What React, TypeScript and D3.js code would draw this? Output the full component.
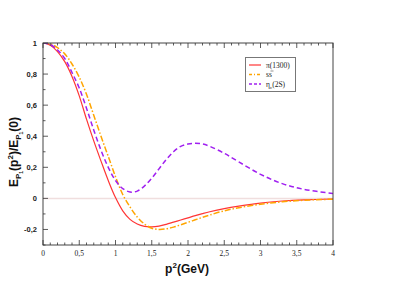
import React from 'react';
import * as d3 from 'd3';

// p^2 sample points (GeV)
const p2 = [0, 0.1, 0.2, 0.3, 0.4, 0.5, 0.6, 0.7, 0.8, 0.9, 1.0, 1.1, 1.2, 1.3, 1.4, 1.5, 1.6, 1.7, 1.8, 1.9, 2.0, 2.1, 2.2, 2.3, 2.5, 2.7, 3.0, 3.3, 3.6, 4.0];

const pi1300 = [1, 0.985, 0.945, 0.88, 0.785, 0.66, 0.51, 0.37, 0.24, 0.115, 0.005, -0.08, -0.135, -0.165, -0.18, -0.183, -0.178, -0.167, -0.153, -0.139, -0.125, -0.111, -0.098, -0.086, -0.066, -0.05, -0.03, -0.017, -0.009, -0.004];
const ssbar = [1, 0.995, 0.97, 0.93, 0.865, 0.78, 0.67, 0.535, 0.4, 0.27, 0.14, 0.025, -0.055, -0.12, -0.165, -0.192, -0.2, -0.196, -0.185, -0.17, -0.154, -0.138, -0.122, -0.107, -0.08, -0.06, -0.038, -0.022, -0.012, -0.005];
const etac2S = [1, 0.99, 0.955, 0.9, 0.81, 0.71, 0.58, 0.44, 0.31, 0.2, 0.115, 0.063, 0.041, 0.047, 0.08, 0.13, 0.19, 0.25, 0.3, 0.335, 0.35, 0.355, 0.35, 0.335, 0.29, 0.235, 0.155, 0.095, 0.058, 0.032];

const xTicks = [0, 0.5, 1, 1.5, 2, 2.5, 3, 3.5, 4];
const xTickLabels = ['0', '0,5', '1', '1,5', '2', '2,5', '3', '3,5', '4'];
const yTicks = [-0.2, 0, 0.2, 0.4, 0.6, 0.8, 1];
const yTickLabels = ['-0,2', '0', '0,2', '0,4', '0,6', '0,8', '1'];

const series = [
  { name: 'pi', values: pi1300, color: '#ff3535', dash: '', width: 1.2 },
  { name: 'ss', values: ssbar, color: '#ffa500', dash: '6,2,1.5,2', width: 1.5 },
  { name: 'etac', values: etac2S, color: '#a020f0', dash: '5,3', width: 1.5 },
];

export default function App() {
  const W = 398, H = 281;
  const left = 43, right = 333, top = 43, bottom = 245;
  const x = d3.scaleLinear().domain([0, 4]).range([left, right]);
  const y = d3.scaleLinear().domain([-0.3, 1]).range([bottom, top]);
  const line = d3.line<number>()
    .x((_, i) => x(p2[i]))
    .y(d => y(d))
    .curve(d3.curveCatmullRom.alpha(0.5));

  const xMinor = d3.range(0, 40.5, 1).map(v => v / 10);
  const yMinor = d3.range(-3, 10.5, 1).map(v => v / 10);
  const sans = 'Liberation Sans, Arial, sans-serif';
  const serif = 'Liberation Serif, Times New Roman, serif';

  return (
    <svg width={W} height={H} style={{ position: 'absolute', left: 0, top: 0, background: '#fff' }}>
      <defs>
        <clipPath id="plot"><rect x={left} y={top} width={right - left} height={bottom - top} /></clipPath>
      </defs>
      <line x1={left} x2={right} y1={y(0)} y2={y(0)} stroke="#f0dede" strokeWidth={1.5} />
      <g clipPath="url(#plot)">
        {series.map(s => (
          <path key={s.name} d={line(s.values) || ''} fill="none" stroke={s.color}
            strokeWidth={s.width} strokeDasharray={s.dash} />
        ))}
      </g>
      <rect x={left} y={top} width={right - left} height={bottom - top} fill="none" stroke="#444" strokeWidth={1} />
      {xMinor.map(v => {
        const major = Math.abs(v * 2 - Math.round(v * 2)) < 1e-6;
        const l = major ? 5 : 2.5;
        return (
          <g key={'x' + v} stroke="#333" strokeWidth={0.8}>
            <line x1={x(v)} x2={x(v)} y1={bottom} y2={bottom - l} />
            <line x1={x(v)} x2={x(v)} y1={top} y2={top + l} />
          </g>
        );
      })}
      {yMinor.map(v => {
        const major = Math.abs(v * 5 - Math.round(v * 5)) < 1e-6;
        const l = major ? 5 : 2.5;
        return (
          <line key={'y' + v} stroke="#333" strokeWidth={0.8} x1={left} x2={left + l} y1={y(v)} y2={y(v)} />
        );
      })}
      {xTicks.map((v, i) => (
        <text key={'xl' + v} x={x(v)} y={256} textAnchor="middle" fontFamily={serif} fontSize={7.5} fill="#222">{xTickLabels[i]}</text>
      ))}
      {yTicks.map((v, i) => (
        <text key={'yl' + v} x={37} y={y(v) + 3} textAnchor="end" fontFamily={sans} fontWeight="bold" fontSize={7.5} fill="#222">{yTickLabels[i]}</text>
      ))}
      <text x={187} y={273} textAnchor="middle" fontFamily={sans} fontWeight="bold" fontSize={12} fill="#111">
        p<tspan dy={-5} fontSize={8}>2</tspan><tspan dy={5}>(GeV)</tspan>
      </text>
      <text transform="translate(18,152) rotate(-90)" textAnchor="middle" fontFamily={sans} fontWeight="bold" fontSize={12} fill="#111">
        E<tspan dy={3} fontSize={8}>P</tspan><tspan dy={2} fontSize={5}>1</tspan><tspan dy={-5}>(p</tspan><tspan dy={-5} fontSize={8}>2</tspan><tspan dy={5}>)/E</tspan><tspan dy={3} fontSize={8}>P</tspan><tspan dy={2} fontSize={5}>1</tspan><tspan dy={-5}>(0)</tspan>
      </text>
      <g>
        <rect x={245.5} y={57.5} width={50} height={34} fill="#fff" stroke="#777" strokeWidth={1} />
        {series.map((s, i) => (
          <line key={'lg' + s.name} x1={249} x2={261} y1={65 + i * 9.5} y2={65 + i * 9.5}
            stroke={s.color} strokeWidth={s.width} strokeDasharray={s.name === 'ss' ? '3,2,1,2' : s.dash ? '3,2' : ''} />
        ))}
        <text x={266} y={67.5} fontFamily={serif} fontSize={7.5} fill="#222">π(1300)</text>
        <text x={266} y={77} fontFamily={serif} fontSize={7.5} fill="#222">s<tspan>s</tspan></text>
        <line x1={270.5} x2={273.5} y1={71} y2={71} stroke="#222" strokeWidth={0.5} />
        <text x={266} y={86.5} fontFamily={serif} fontSize={7.5} fill="#222">η<tspan dy={2} fontSize={5}>c</tspan><tspan dy={-2}>(2S)</tspan></text>
      </g>
    </svg>
  );
}
